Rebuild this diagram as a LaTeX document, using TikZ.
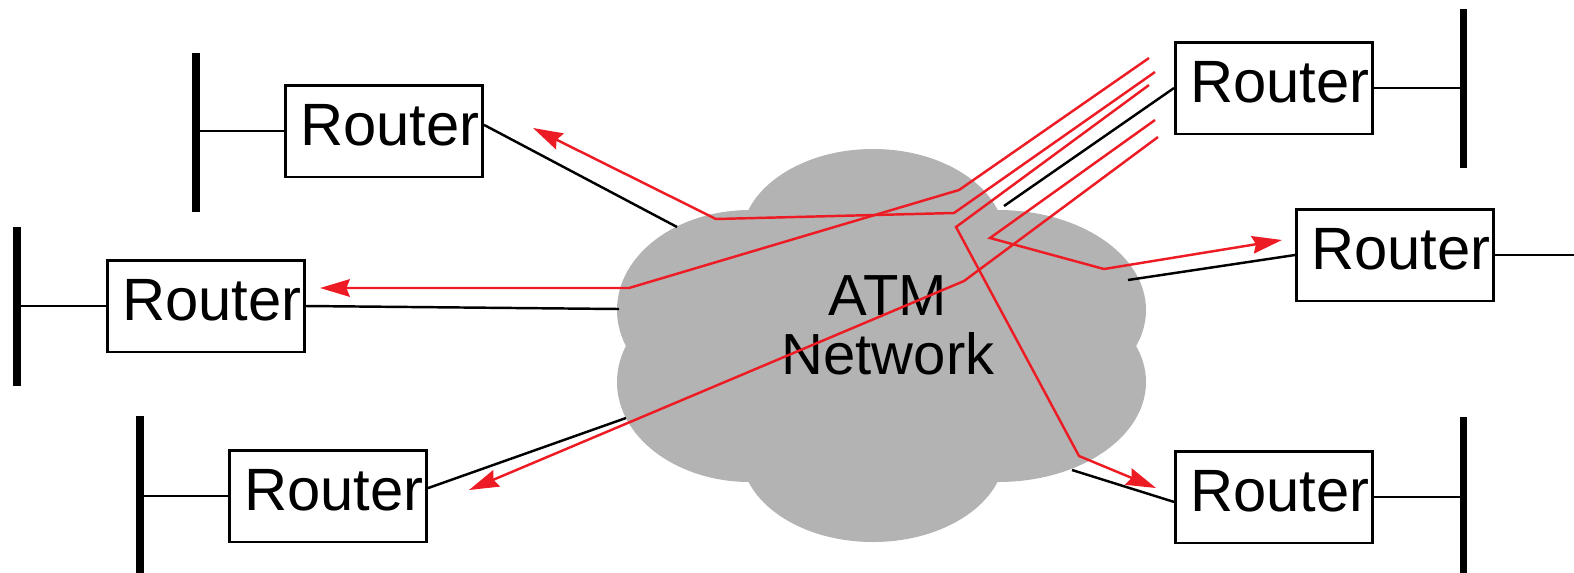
\documentclass[tikz,border=0pt]{standalone}
\usepackage{fontspec}
\setmainfont{Liberation Sans}
\usetikzlibrary{arrows.meta}
\definecolor{cloudgray}{RGB}{179,179,179}
\definecolor{vcred}{RGB}{237,28,36}

\begin{document}
\begin{tikzpicture}[x=0.02cm,y=-0.02cm,
	router/.style={draw,line width=1.7pt,minimum width=3.94cm,minimum height=1.84cm,inner sep=0pt,text depth=6.5pt,execute at begin node=\hspace*{6.5pt},font=\fontsize{34}{36}\selectfont},
	lanbar/.style={line width=4pt},
	tap/.style={line width=1.2pt},
	link/.style={line width=1.4pt},
	vc/.style={vcred,line width=1.4pt},
	vcarrow/.style={vc,-{Stealth[length=17pt,width=10pt,inset=2pt]}}]
				\useasboundingbox (0,0) rectangle (1574,572);
				\fill[cloudgray] (873,240) ellipse [x radius=132,y radius=91];
				\fill[cloudgray] (750,310) ellipse [x radius=133,y radius=100];
				\fill[cloudgray] (750,382) ellipse [x radius=133,y radius=100];
				\fill[cloudgray] (873,452) ellipse [x radius=132,y radius=90];
				\fill[cloudgray] (998,310) ellipse [x radius=148,y radius=100];
				\fill[cloudgray] (998,382) ellipse [x radius=148,y radius=100];
				\fill[cloudgray] (748,210) rectangle (998,482);
				\node[font=\fontsize{33}{33.5}\selectfont,align=center] (atm) at (888,325) {ATM\\Network};
				\node[router] (rTL) at (384,131) {Router};
				\node[router] (rML) at (206,306) {Router};
				\node[router] (rBL) at (328,496) {Router};
				\node[router] (rTR) at (1274,88) {Router};
				\node[router] (rMR) at (1395,255) {Router};
				\node[router] (rBR) at (1274,497) {Router};
				\coordinate (lanTL) at (196,131);
				\coordinate (lanML) at (17,306);
				\coordinate (lanBL) at (140,496);
				\coordinate (lanTR) at (1463,88);
				\coordinate (lanMR) at (1590,255);
				\coordinate (lanBR) at (1463,497);
				\draw[lanbar] (196,53) -- (196,212);
				\draw[lanbar] (17,227) -- (17,386);
				\draw[lanbar] (140,416) -- (140,580);
				\draw[lanbar] (1463,9) -- (1463,168);
				\draw[lanbar] (1463,417) -- (1463,580);
				\draw[tap] (lanTL) -- (rTL);
				\draw[tap] (lanML) -- (rML);
				\draw[tap] (lanBL) -- (rBL);
				\draw[tap] (lanTR) -- (rTR);
				\draw[tap] (lanMR) -- (rMR);
				\draw[tap] (lanBR) -- (rBR);
				\coordinate (cTL) at (677,227);
				\coordinate (cML) at (619,309);
				\coordinate (cBL) at (626,418);
				\coordinate (cTR) at (1004,206);
				\coordinate (cMR) at (1128,280);
				\coordinate (cBR) at (1072,470);
				\draw[link] ([yshift=3.5pt]rTL.east) -- (cTL);
				\draw[link] (rML.east) -- (cML);
				\draw[link] ([yshift=4.5pt]rBL.east) -- (cBL);
				\draw[link] (rTR.west) -- (cTR);
				\draw[link] (rMR.west) -- (cMR);
				\draw[link] ([yshift=-2.8pt]rBR.west) -- (cBR);
				\coordinate (vcA) at (1149,58);
				\coordinate (vcB) at (1155,72);
				\coordinate (vcC) at (1149,85);
				\coordinate (vcD) at (1155,120);
				\coordinate (vcE) at (1158,137);
				\coordinate (tipML) at (320,288);
				\coordinate (tipTL) at (533,128);
				\coordinate (tipBR) at (1156,488);
				\coordinate (tipMR) at (1282,240);
				\coordinate (tipBL) at (469,490);
				\draw[vcarrow] (vcA) -- (959,190) -- (629,288) -- (tipML);
				\draw[vcarrow] (vcB) -- (954,213) -- (716,219) -- (tipTL);
				\draw[vcarrow] (vcC) -- (956,227) -- (1079,456) -- (tipBR);
				\draw[vcarrow] (vcD) -- (990,238) -- (1104,269) -- (tipMR);
				\draw[vcarrow] (vcE) -- (964,281) -- (tipBL);
			\end{tikzpicture}
\end{document}
